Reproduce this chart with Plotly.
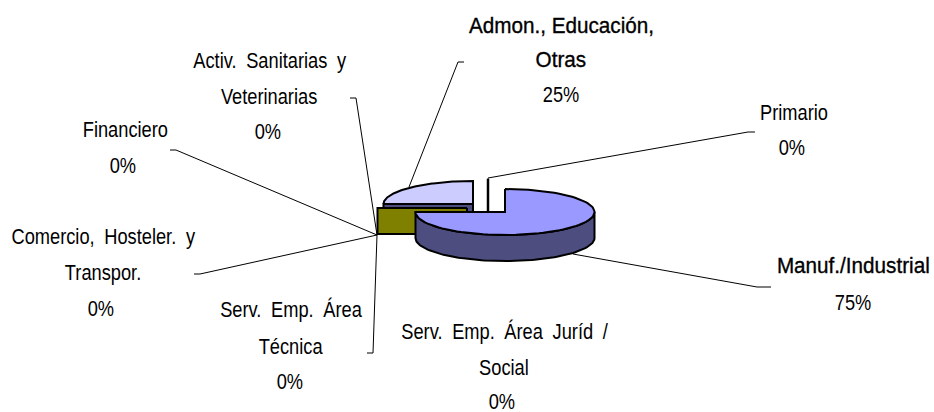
"""employment share by sector, drawn as an exploded 3D pie"""

import json

import numpy as np
import plotly.graph_objects as go

SECTORS = [
    "Primario",
    "Manuf./Industrial",
    "Serv. Emp. Área Juríd / Social",
    "Serv. Emp. Área Técnica",
    "Comercio, Hosteler. y Transpor.",
    "Financiero",
    "Activ. Sanitarias y Veterinarias",
    "Admon., Educación, Otras",
]
VALUES = [0, 75, 0, 0, 0, 0, 0, 25]

# how each label is broken over lines
LABEL_LINES = [
    ["Primario"],
    ["Manuf./Industrial"],
    ["Serv. Emp. Área Juríd /", "Social"],
    ["Serv. Emp. Área", "Técnica"],
    ["Comercio, Hosteler. y", "Transpor."],
    ["Financiero"],
    ["Activ. Sanitarias y", "Veterinarias"],
    ["Admon., Educación,", "Otras"],
]
# these lines look heavier and wider in the original
HEAVY_LINES = ["Manuf./Industrial", "Admon., Educación,", "Otras"]

# layout of the pie, page pixels
RX, RY, DEPTH = 89.5, 23, 26
CENTERS = {1: (505, 212), 7: (473, 204)}
OLIVE_CENTER = (467, 208)
PRIMARIO_CENTER = (488, 212)

# label placement: x centre of each line, y centre of each line
LABEL_X = [
    [794, 792], [853, 853], [505, 504, 502], [291, 291, 290],
    [103, 103, 101], [125, 123], [269, 269, 268], [561, 561, 561],
]
LABEL_Y = [
    [112, 147], [265, 302], [331, 367, 401], [309, 346, 381],
    [236, 272, 308], [129, 165], [60, 96, 131], [25, 59, 94],
]
LEADERS = [
    [(755, 132), (748, 132), (488, 178), (488, 180)],
    [(771, 287), (757, 287), (573, 254)],
    [(367, 353), (373, 353), (377, 235)],
    [(194, 274), (200, 274), (377, 235)],
    [(170, 150), (176, 150), (377, 235)],
    [(350, 98), (356, 98), (377, 235)],
    [(464, 62), (458, 62), (409, 187)],
]

BLUE, BLUE_DARK = "#9999FF", "#4D4D80"
LILAC = "#CCCCFF"
OLIVE = "#808000"

# page margin off; the original labels are a condensed face with wide word gaps
PAGE_FIX = """
document.body.style.margin = '0';
var heavy = %s;
document.querySelectorAll('.annotation-text').forEach(function (t) {
  var wide = heavy.indexOf(t.textContent) >= 0;
  t.style.transformBox = 'fill-box';
  t.style.transformOrigin = 'center';
  t.style.transform = 'scaleX(' + (wide ? 0.94 : 0.83) + ')';
  t.style.wordSpacing = wide ? '0px' : '5.5px';
  if (wide) { t.style.stroke = 'black'; t.style.strokeWidth = '0.35px'; }
});
""" % json.dumps(HEAVY_LINES, ensure_ascii=False)


def slice_angles():
    """clockwise start and end of each slice, radians from 12 o'clock"""
    shares = np.array(VALUES) / sum(VALUES)
    ends = np.cumsum(shares) * 2 * np.pi
    return ends - shares * 2 * np.pi, ends


def rim(center, start, end, drop=0.0):
    """points along the ellipse edge between two angles"""
    theta = np.linspace(start, end, 90)
    return center[0] + RX * np.sin(theta), center[1] - RY * np.cos(theta) + drop


def add_poly(fig, x, y, fill, width=2):
    """closed filled polygon in pixel axes"""
    fig.add_trace(go.Scatter(
        x=list(x) + [x[0]], y=list(y) + [y[0]], mode="lines", fill="toself",
        fillcolor=fill, line={"color": "black", "width": width},
        hoverinfo="skip", showlegend=False))


def add_wall(fig, center, angle, fill):
    """straight cut face running from the centre out to the rim"""
    ex, ey = rim(center, angle, angle)
    ex, ey = ex[0], ey[0]
    add_poly(fig, [center[0], ex, ex, center[0]],
             [center[1], ey, ey + DEPTH, center[1] + DEPTH], fill)


def main():
    """main"""
    starts, ends = slice_angles()
    fig = go.Figure()

    for leader in LEADERS:
        xs, ys = zip(*leader)
        fig.add_trace(go.Scatter(x=xs, y=ys, mode="lines",
                                 line={"color": "black", "width": 1},
                                 hoverinfo="skip", showlegend=False))

    # back slice: wall, then top
    add_wall(fig, CENTERS[7], starts[7], BLUE_DARK)
    x, y = rim(CENTERS[7], starts[7], ends[7])
    add_poly(fig, [*x, CENTERS[7][0]], [*y, CENTERS[7][1]], LILAC)

    # the zero slices collapse into one olive cut face
    add_wall(fig, OLIVE_CENTER, starts[4], OLIVE)

    # primario is only a thick upright edge
    fig.add_trace(go.Scatter(
        x=[PRIMARIO_CENTER[0]] * 2,
        y=[PRIMARIO_CENTER[1], PRIMARIO_CENTER[1] - 33],
        mode="lines", line={"color": "black", "width": 2.5},
        hoverinfo="skip", showlegend=False))

    # large slice: outer wall only where it faces the viewer, then top
    c = CENTERS[1]
    x, y = rim(c, np.pi / 2, starts[2])
    add_poly(fig, [*x, *x[::-1]], [*y, *(y[::-1] + DEPTH)], BLUE_DARK)
    x, y = rim(c, starts[1], ends[1])
    add_poly(fig, [*x, c[0]], [*y, c[1]], BLUE)

    for i, lines in enumerate(LABEL_LINES):
        texts = lines + [f"{VALUES[i]}%"]
        for text, tx, ty in zip(texts, LABEL_X[i], LABEL_Y[i]):
            fig.add_annotation(
                x=tx, y=ty, text=text,
                showarrow=False, xanchor="center", yanchor="middle",
                font={"family": "Liberation Sans", "size": 22, "color": "black"})

    fig.update_xaxes(range=[0, 934], visible=False, fixedrange=True)
    fig.update_yaxes(range=[412, 0], visible=False, fixedrange=True)
    fig.update_layout(width=934, height=412, showlegend=False,
                      margin={"l": 0, "r": 0, "t": 0, "b": 0},
                      plot_bgcolor="white", paper_bgcolor="white")
    fig.write_html("out.html", config={"displayModeBar": False},
                   post_script=PAGE_FIX)


if __name__ == "__main__":
    main()
